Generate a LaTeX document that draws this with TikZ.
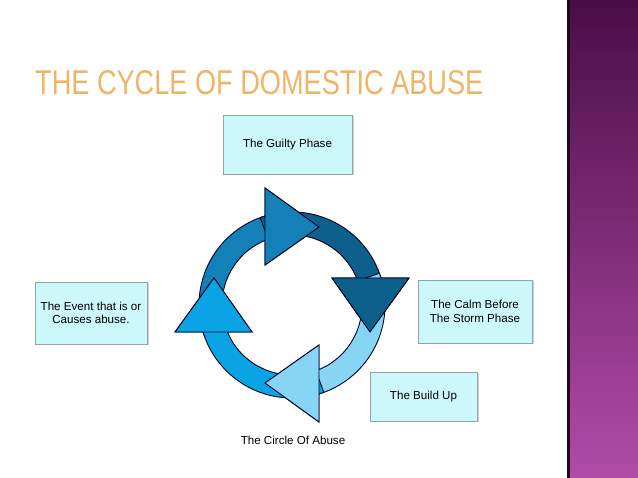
\documentclass[tikz,border=0pt]{standalone}
\usepackage{fontspec}
\setmainfont{Liberation Sans}
\usetikzlibrary{shadows}
\definecolor{boxfill}{HTML}{CCF7FB}
\definecolor{boxline}{HTML}{8FA6A8}
\definecolor{aTop}{HTML}{1380B8}
\definecolor{aRight}{HTML}{0D5F8C}
\definecolor{aBot}{HTML}{86D5F5}
\definecolor{aLeft}{HTML}{0AA3E3}
\definecolor{ttl}{HTML}{F0B467}
\definecolor{purpTop}{HTML}{4A0D45}
\definecolor{purpBot}{HTML}{B24BAA}
\tikzset{
  phase/.style={draw=boxline, fill=boxfill, line width=0.8pt, align=center,
    font=\fontsize{11.6}{13.5}\selectfont, inner sep=0pt,
    drop shadow={shadow xshift=1.5pt, shadow yshift=-1.5pt, fill=black!35}},
  cyc/.style={draw=black!85!blue, line width=0.9pt, line join=miter}
}
\newcommand{\cycarrow}[2]{% rotation, color
  \begin{scope}[rotate=#1]
  \filldraw[cyc, fill=#2] (200:93) arc[start angle=200, end angle=106.9, radius=93]
    -- (-27,117) -- (27,78) -- (-27,40) -- (112.7:70)
    arc[start angle=112.7, end angle=200, radius=70] -- cycle;
  \end{scope}}
\newcommand{\cychead}[2]{%
  \begin{scope}[rotate=#1]
  \filldraw[cyc, fill=#2] (-27,117) -- (27,78) -- (-27,40) -- cycle;
  \end{scope}}
\begin{document}
\begin{tikzpicture}[x=1pt,y=1pt]
\useasboundingbox (0,0) rectangle (638,478);
\fill[white] (0,0) rectangle (638,478);
\shade[top color=purpTop, bottom color=purpBot] (569,0) rectangle (638,478);
\fill[black!60!purpTop] (567,0) rectangle (569.5,478);
% title
\node[anchor=west, inner sep=0pt] (title) at (35,395) {\resizebox{448pt}{24pt}{\textcolor{ttl}{THE CYCLE OF DOMESTIC ABUSE}}};
% cycle
\begin{scope}[shift={(292,173)}]
  \cycarrow{0}{aTop}
  \cycarrow{-90}{aRight}
  \cycarrow{-180}{aBot}
  \cycarrow{-270}{aLeft}
  \cychead{0}{aTop}
  \cychead{-90}{aRight}
  \cychead{-180}{aBot}
  \cychead{-270}{aLeft}
\end{scope}
\node[phase, minimum width=129pt, minimum height=59pt] (guilty) at (287.5,333.5) {The Guilty Phase};
\node[phase, minimum width=112pt, minimum height=62pt] (event) at (91,165) {The Event that is or\\Causes abuse.};
\node[phase, minimum width=114pt, minimum height=63pt] (calm) at (475,166.5) {The Calm Before\\The Storm Phase};
\node[phase, minimum width=107pt, minimum height=49pt] (build) at (423.5,81.5) {The Build Up};
\node[font=\fontsize{11.6}{13.5}\selectfont] (circ) at (293,38) {The Circle Of Abuse};
\end{tikzpicture}
\end{document}
